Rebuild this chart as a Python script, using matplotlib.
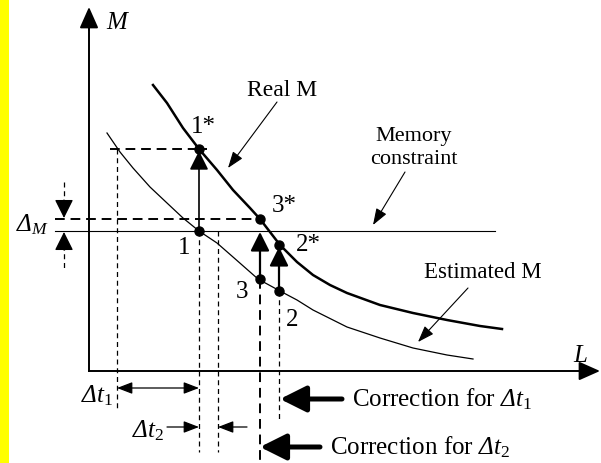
import matplotlib
matplotlib.use('Agg')
import matplotlib.pyplot as plt
from matplotlib.patches import Rectangle, FancyArrowPatch

plt.rcParams['font.family'] = ['Liberation Serif', 'DejaVu Serif']
plt.rcParams['mathtext.fontset'] = 'custom'
plt.rcParams['mathtext.rm'] = 'Liberation Serif'
plt.rcParams['mathtext.it'] = 'Liberation Serif:italic'
# sf slot used for the slanted capital Delta
plt.rcParams['mathtext.sf'] = 'Liberation Serif:italic'

# schematic, in picture units (x right, y down)
real_x = [153, 167, 183, 199, 217, 233, 250, 260, 270, 280, 297, 313, 330, 347, 380, 413, 447, 480, 502]
real_y = [85, 103, 128, 149, 170, 190, 208, 219, 232, 245, 262, 275, 285, 293, 305, 313, 320, 326, 329]
est_x = [107, 120, 133, 150, 167, 183, 199, 217, 233, 258, 280, 297, 313, 347, 380, 413, 447, 473]
est_y = [133, 152, 168, 187, 203, 218, 231, 243, 257, 279, 291, 300, 310, 327, 338, 348, 355, 359]

pt_names = ['1', '1*', '3', '3*', '2', '2*']
pt_x = [199, 199, 260, 260, 279, 279]
pt_y = [231, 149, 279, 219, 291, 245]
pt_label_x = [184, 203, 242, 284, 292, 308]
pt_label_y = [248, 127, 292, 206, 320, 245]

mem_level = 230.5
delta_level = 219

DT1 = r'$\mathsf{\Delta}\mathit{t}_1$'
DT2 = r'$\mathsf{\Delta}\mathit{t}_2$'


def arrow(ax, x0, y0, x1, y1, lw=1.0, hl=14, hw=5, style='-|>'):
    # hl / hw in pixels, converted to points
    st = f'{style},head_length={hl*0.72},head_width={hw*0.72}'
    a = FancyArrowPatch((x0, y0), (x1, y1), arrowstyle=st, mutation_scale=1,
                        lw=lw, color='black', shrinkA=0, shrinkB=0)
    ax.add_patch(a)


fig = plt.figure(figsize=(6.01, 4.63), dpi=100)
ax = fig.add_axes([0, 0, 1, 1])
ax.set_xlim(0, 601)
ax.set_ylim(463, 0)
ax.axis('off')

ax.add_patch(Rectangle((0, 0), 9, 463, color='#ffff00', lw=0))

# axes
ax.plot([89, 89], [371, 25], color='black', lw=1.4)
ax.plot([89, 585], [371, 371], color='black', lw=1.4)
arrow(ax, 89, 30, 89, 7, lw=1.4, hl=18, hw=8)
arrow(ax, 580, 371, 600, 371, lw=1.4, hl=18, hw=8)
ax.text(106, 23, 'M', fontsize=18, style='italic', va='center', ha='left')
ax.text(580, 356, 'L', fontsize=18, style='italic', va='center', ha='center')

# curves
ax.plot(real_x, real_y, color='black', lw=1.8, solid_joinstyle='round')
ax.plot(est_x, est_y, color='black', lw=0.9, solid_joinstyle='round')

# memory constraint
ax.plot([55, 495], [mem_level, mem_level], color='black', lw=0.8)

# dashed guides
thick = dict(color='black', lw=1.4, dashes=(5, 3))
thin = dict(color='black', lw=0.9, dashes=(4, 3))
ax.plot([55, pt_x[3]], [delta_level, delta_level], **thick)
ax.plot([110, 207], [pt_y[1], pt_y[1]], **thick)
ax.plot([117, 117], [pt_y[1], 410], **thin)
ax.plot([199, 199], [pt_y[0], 452], **thin)
ax.plot([218, 218], [mem_level, 452], **thin)
ax.plot([260, 260], [pt_y[2], 463], **thick)
ax.plot([279, 279], [pt_y[4], 422], **thin)

# delta_M markers
ax.plot([64, 64], [182, 205], **thin)
ax.plot([64, 64], [245, 270], **thin)
arrow(ax, 64, 200, 64, 218, lw=0.9, hl=16, hw=8)
arrow(ax, 64, 250, 64, 232, lw=0.9, hl=16, hw=8)
ax.text(16, 225, r'$\mathsf{\Delta}_{\mathit{M}}$', fontsize=18, va='center', ha='left')

# correction arrows between curves
arrow(ax, 199, 231, 199, 151, lw=1.2, hl=16, hw=8)
arrow(ax, 260, 279, 260, 232, lw=1.6, hl=16, hw=8)
arrow(ax, 279, 291, 279, 247, lw=1.6, hl=16, hw=8)

# points
ax.plot(pt_x, pt_y, 'o', color='black', ms=6.5)
for name, lx, ly in zip(pt_names, pt_label_x, pt_label_y):
    ax.text(lx, ly, name, fontsize=18, ha='center', va='center')

# delta t spans
arrow(ax, 117, 388, 199, 388, lw=0.9, hl=13, hw=5, style='<|-|>')
ax.text(81, 396, DT1, fontsize=18, ha='left', va='center')
arrow(ax, 167, 427, 199, 427, lw=0.9, hl=13, hw=5)
arrow(ax, 247, 427, 218, 427, lw=0.9, hl=13, hw=5)
ax.text(132, 431, DT2, fontsize=18, ha='left', va='center')

# callouts
ax.text(282, 90, 'Real M', fontsize=17, ha='center', va='center')
arrow(ax, 277, 102, 228, 168, lw=0.8, hl=14, hw=5)
ax.text(414, 137, 'Memory', fontsize=16, ha='center', va='center')
ax.text(414, 159, 'constraint', fontsize=16, ha='center', va='center')
arrow(ax, 405, 172, 373, 225, lw=0.8, hl=14, hw=5)
ax.text(483, 272, 'Estimated M', fontsize=16.5, ha='center', va='center')
arrow(ax, 468, 288, 418, 342, lw=0.8, hl=14, hw=5)

# correction for delta t
arrow(ax, 342, 399, 280, 399, lw=3.6, hl=22, hw=11)
ax.text(352, 399, 'Correction for ' + DT1, fontsize=18, ha='left', va='center')
arrow(ax, 320, 447, 260, 447, lw=3.6, hl=22, hw=11)
ax.text(330, 447, 'Correction for ' + DT2, fontsize=18, ha='left', va='center')

fig.savefig('out.png', dpi=100, facecolor='white')
